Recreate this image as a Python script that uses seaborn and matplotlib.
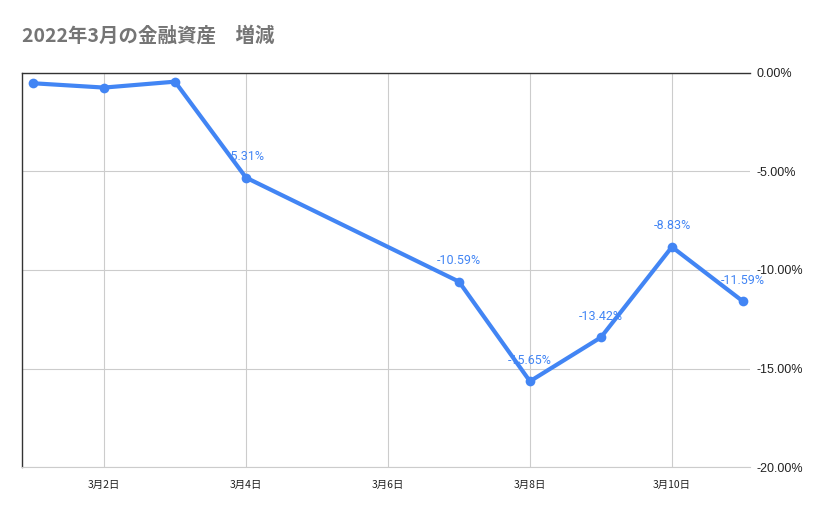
import matplotlib
matplotlib.use("Agg")
import matplotlib.pyplot as plt
import seaborn as sns
import pandas as pd

days = [1, 2, 3, 4, 7, 8, 9, 10, 11]
values = [-0.52, -0.74, -0.44, -5.31, -10.59, -15.65, -13.42, -8.83, -11.59]
labeled = [False, False, False, True, True, True, True, True, True]
xticks = [2, 4, 6, 8, 10]
yticks = [0, -5, -10, -15, -20]
title = "2022年3月の金融資産\u3000増減"

sns.set_theme(style="white")
plt.rcParams['font.family'] = ['Noto Sans CJK JP', 'DejaVu Sans']

df = pd.DataFrame({"day": days, "value": values})
color = "#4285F4"

fig = plt.figure(figsize=(8.29, 5.14), dpi=100)
ax = fig.add_axes([22/829, 1-467/514, (750-22)/829, (467-73)/514])

sns.lineplot(data=df, x="day", y="value", ax=ax, color=color, linewidth=3,
             marker="o", markersize=7, markeredgewidth=0, markeredgecolor=color, zorder=3)

for d, v, lab in zip(days, values, labeled):
    if lab:
        ax.annotate(f"{v:.2f}%", (d, v), xytext=(0, 10.5), textcoords="offset points",
                    ha="center", va="bottom", fontsize=9, color=color, zorder=4,
                    family=["Roboto", "DejaVu Sans"])

ax.set_xlim(0.845, 11.1)
ax.set_ylim(-20, 0)
ax.set_xticks(xticks)
ax.set_xticklabels([f"3月{d}日" for d in xticks])
ax.set_yticks(yticks)
ax.set_yticklabels([f"{t:.2f}%" for t in yticks], family=["Liberation Sans", "DejaVu Sans"])
ax.yaxis.tick_right()
ax.tick_params(axis="y", length=0, pad=5, labelsize=9, labelcolor="#222222")
ax.tick_params(axis="x", length=0, pad=9, labelsize=7.5, labelcolor="#222222")
ax.set_xlabel("")
ax.set_ylabel("")

ax.grid(True, color="#cccccc", linewidth=0.8, zorder=0)
ax.set_axisbelow(True)
ax.spines["right"].set_visible(False)
ax.spines["left"].set_color("#333333")
ax.spines["left"].set_linewidth(1)
ax.spines["top"].set_color("#333333")
ax.spines["top"].set_linewidth(1)
ax.spines["bottom"].set_color("#cccccc")
ax.spines["bottom"].set_linewidth(0.8)

fig.text(22/829, 1-36/514, title, ha="left", va="center", fontsize=14,
         fontweight="bold", color="#757575")

fig.savefig("out.png", dpi=100)
